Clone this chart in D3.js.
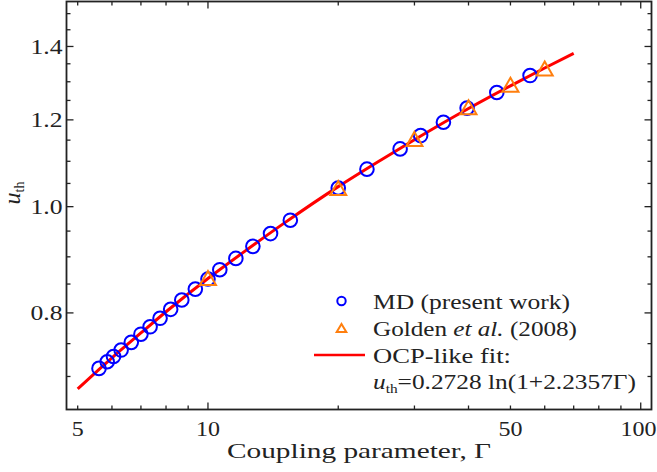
<!DOCTYPE html>
<html><head><meta charset="utf-8">
<script src="https://cdn.jsdelivr.net/npm/d3@7"></script>
<style>body{margin:0;background:#fff}svg{display:block}text{font-family:"Liberation Serif",serif;fill:#222}</style>
</head><body><svg id="c" width="657" height="472"></svg>
<script>
// MD (present work)
const mdGamma = [5.6, 5.85, 6.05, 6.3, 6.65, 7.0, 7.35, 7.75, 8.2, 8.7, 9.35, 10.0, 10.65, 11.6, 12.7, 13.95, 15.5, 20.0, 23.3, 27.8, 31.0, 35.0, 39.7, 46.5, 55.5];
const mdU =     [0.712, 0.722, 0.730, 0.740, 0.752, 0.765, 0.777, 0.791, 0.806, 0.822, 0.841, 0.859, 0.876, 0.897, 0.920, 0.945, 0.972, 1.040, 1.082, 1.129, 1.161, 1.194, 1.230, 1.271, 1.317];
// Golden et al. (2008)
const goldenGamma = [10, 20, 30, 40, 50, 60];
const goldenU =     [0.861, 1.040, 1.153, 1.232, 1.292, 1.337];
// OCP-like fit curve
const fitGamma = [5, 6, 7, 8, 10, 12, 15, 20, 25, 30, 40, 50, 60, 70];
const fitU =     [0.682, 0.728, 0.767, 0.802, 0.860, 0.907, 0.966, 1.043, 1.102, 1.151, 1.229, 1.289, 1.338, 1.380];
// ticks
const xLabelTicks = [5, 10, 50, 100];
const xMajorTicks = [10, 100];
const xMinorTicks = [5, 6, 7, 8, 9, 20, 30, 40, 50, 60, 70, 80, 90];
const yLabelTicks = [0.8, 1.0, 1.2, 1.4];
const yMinorTicks = [0.7, 0.75, 0.85, 0.9, 0.95, 1.05, 1.1, 1.15, 1.25, 1.3, 1.35, 1.45, 1.5];

const svg = d3.select("#c");
const L = 66.5, R = 651.5, T = 1.5, B = 409.5;
const x = d3.scaleLog().domain([4.711, 105.9]).range([L, R]);
const y = d3.scaleLog().domain([0.6531, 1.5387]).range([B, T]);
const ink = "#222";
const FS = 21.5;

// fit line
const line = d3.line().x((d, i) => x(fitGamma[i])).y((d, i) => y(fitU[i])).curve(d3.curveMonotoneX);
svg.append("path").datum(fitU).attr("d", line).attr("fill", "none").attr("stroke", "#ff0000").attr("stroke-width", 3);

// MD circles
svg.append("g").selectAll("circle").data(mdU).join("circle")
  .attr("cx", (d, i) => x(mdGamma[i])).attr("cy", d => y(d)).attr("r", 6.8)
  .attr("fill", "none").attr("stroke", "#0000ff").attr("stroke-width", 2);

// Golden triangles
const tri = (h, w) => `M0,${-h}L${w},${h}L${-w},${h}Z`;
svg.append("g").selectAll("path").data(goldenU).join("path")
  .attr("transform", (d, i) => `translate(${x(goldenGamma[i])},${y(d)})`)
  .attr("d", tri(7, 8)).attr("fill", "none").attr("stroke", "#ff7f0e").attr("stroke-width", 2);

// frame
svg.append("rect").attr("x", L).attr("y", T).attr("width", R - L).attr("height", B - T)
  .attr("fill", "none").attr("stroke", ink).attr("stroke-width", 1.8);

// ticks
const tk = svg.append("g").attr("stroke", ink).attr("stroke-width", 1.3);
xMajorTicks.forEach(v => {
  tk.append("line").attr("x1", x(v)).attr("x2", x(v)).attr("y1", B).attr("y2", B - 7);
  tk.append("line").attr("x1", x(v)).attr("x2", x(v)).attr("y1", T).attr("y2", T + 7);
});
xMinorTicks.forEach(v => {
  tk.append("line").attr("x1", x(v)).attr("x2", x(v)).attr("y1", B).attr("y2", B - 4);
  tk.append("line").attr("x1", x(v)).attr("x2", x(v)).attr("y1", T).attr("y2", T + 4);
});
yLabelTicks.forEach(v => {
  tk.append("line").attr("y1", y(v)).attr("y2", y(v)).attr("x1", L).attr("x2", L + 7);
  tk.append("line").attr("y1", y(v)).attr("y2", y(v)).attr("x1", R).attr("x2", R - 7);
});
yMinorTicks.forEach(v => {
  tk.append("line").attr("y1", y(v)).attr("y2", y(v)).attr("x1", L).attr("x2", L + 4);
  tk.append("line").attr("y1", y(v)).attr("y2", y(v)).attr("x1", R).attr("x2", R - 4);
});

// tick labels
svg.append("g").selectAll("text").data(xLabelTicks).join("text")
  .attr("x", d => d === 100 ? 656.5 : x(d)).attr("y", 436)
  .attr("text-anchor", d => d === 100 ? "end" : "middle").attr("font-size", FS)
  .attr("textLength", d => String(d).length * 12).attr("lengthAdjust", "spacingAndGlyphs").text(d => d);
svg.append("g").selectAll("text").data(yLabelTicks).join("text")
  .attr("x", 62.5).attr("y", d => y(d) + 7.3).attr("text-anchor", "end").attr("font-size", FS)
  .attr("textLength", 32).attr("lengthAdjust", "spacingAndGlyphs").text(d => d.toFixed(1));

// axis labels
svg.append("text").attr("x", 227).attr("y", 458).attr("font-size", FS)
  .attr("textLength", 264).attr("lengthAdjust", "spacingAndGlyphs")
  .text("Coupling parameter, Γ");
const yl = svg.append("text").attr("transform", "translate(20,193) rotate(-90)").attr("text-anchor", "middle").attr("font-size", 24);
yl.append("tspan").attr("font-style", "italic").text("u");
yl.append("tspan").attr("font-size", 14).attr("dy", 4).text("th");

// legend
const lg = svg.append("g");
lg.append("circle").attr("cx", 341.5).attr("cy", 301).attr("r", 4.2).attr("fill", "none").attr("stroke", "#0000ff").attr("stroke-width", 2);
lg.append("path").attr("transform", "translate(341.5,328)").attr("d", tri(4, 4.8)).attr("fill", "none").attr("stroke", "#ff7f0e").attr("stroke-width", 2);
lg.append("line").attr("x1", 314).attr("x2", 365).attr("y1", 355).attr("y2", 355).attr("stroke", "#ff0000").attr("stroke-width", 2.5);
const lgt = (yy, w) => lg.append("text").attr("x", 373).attr("y", yy).attr("font-size", FS)
  .attr("textLength", w).attr("lengthAdjust", "spacingAndGlyphs");
lgt(309, 197).text("MD (present work)");
const g2 = lgt(335.5, 204);
g2.append("tspan").text("Golden ");
g2.append("tspan").attr("font-style", "italic").text("et al.");
g2.append("tspan").text(" (2008)");
lgt(363, 138).text("OCP-like fit:");
const f = lgt(389, 263);
f.append("tspan").attr("font-style", "italic").text("u");
f.append("tspan").attr("font-size", 13).attr("dy", 4).text("th");
f.append("tspan").attr("dy", -4).text("=0.2728 ln(1+2.2357Γ)");
</script></body></html>
